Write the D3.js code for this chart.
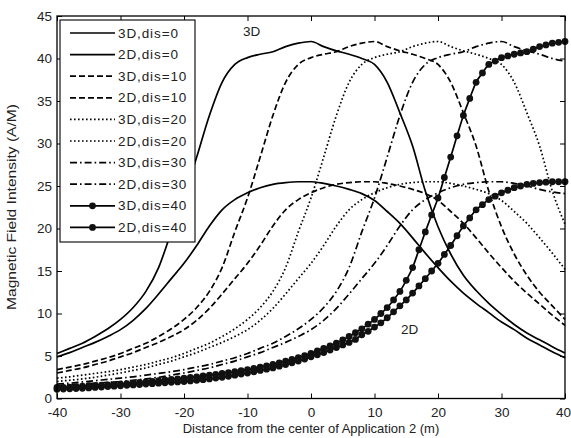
<!DOCTYPE html>
<html>
<head>
<meta charset="utf-8">
<script src="https://cdn.jsdelivr.net/npm/d3@7"></script>
<style>
  body { margin: 0; background: #fff; }
  text { font-family: "Liberation Sans", Arial, sans-serif; fill: #222; }
</style>
</head>
<body>
<svg id="chart" width="571" height="438"></svg>
<script>
// x positions (m) for the line series, every 2 m
const xEven = d3.range(-40, 41, 2);
// the dis=40 series are sampled every 1 m (one marker per sample)
const xOne = d3.range(-40, 41, 1);

const yTicks = [0, 5, 10, 15, 20, 25, 30, 35, 40, 45];
const xTicks = [-40, -30, -20, -10, 0, 10, 20, 30, 40];

// values (A/M)
const d3dis0 = [5.3,5.9,6.5,7.3,8.2,9.3,10.7,12.6,15.4,19.6,23.6,28.4,33.3,37.2,39.3,40.1,40.5,40.8,41.4,41.8,
  42.0,41.4,40.9,40.5,40.0,39.3,37.2,33.6,29.7,24.4,20.2,17.0,14.5,12.7,11.2,9.9,8.7,7.7,6.9,6.1,5.35];
const d2dis0 = [4.9,5.4,6.0,6.6,7.3,8.1,9.2,10.6,12.3,14.1,15.9,18.0,20.3,22.2,23.4,24.2,24.8,25.2,25.4,25.5,
  25.5,25.3,25.0,24.6,24.1,23.3,22.0,20.6,18.9,17.1,15.4,13.8,12.4,11.2,10.1,9.0,8.1,7.1,6.3,5.5,4.8];
const d3dis10 = [3.4,3.7,4.0,4.4,4.8,5.3,5.9,6.5,7.3,8.2,9.3,10.7,12.6,15.4,19.6,23.6,28.4,33.3,37.2,39.3,
  40.1,40.5,40.8,41.4,41.8,42.0,41.4,40.9,40.5,40.0,39.3,37.2,33.6,29.7,24.4,20.2,17.0,14.5,12.5,10.9,9.3];
const d2dis10 = [3.0,3.3,3.6,4.0,4.4,4.9,5.4,6.0,6.6,7.3,8.1,9.2,10.6,12.3,14.1,15.9,18.0,20.3,22.2,23.4,
  24.2,24.8,25.2,25.4,25.5,25.5,25.3,25.0,24.6,24.1,23.3,22.0,20.6,18.9,17.1,15.4,13.8,12.4,11.1,9.8,8.6];
const d3dis20 = [2.4,2.55,2.75,2.95,3.15,3.4,3.7,4.0,4.4,4.8,5.3,5.9,6.5,7.3,8.2,9.3,10.7,12.6,15.4,19.6,
  23.6,28.4,33.3,37.2,39.3,40.1,40.5,40.8,41.4,41.8,42.0,41.4,40.9,40.5,40.0,39.3,37.2,33.6,29.7,24.4,20.5];
const d2dis20 = [2.0,2.15,2.3,2.5,2.75,3.0,3.3,3.6,4.0,4.4,4.9,5.4,6.0,6.6,7.3,8.1,9.2,10.6,12.3,14.1,
  15.9,18.0,20.3,22.2,23.4,24.2,24.8,25.2,25.4,25.5,25.5,25.3,25.0,24.6,24.1,23.3,22.0,20.6,18.9,17.1,15.2];
const d3dis30 = [1.7,1.8,1.95,2.1,2.25,2.4,2.55,2.75,2.95,3.15,3.4,3.7,4.0,4.4,4.8,5.3,5.9,6.5,7.3,8.2,
  9.3,10.7,12.6,15.4,19.6,23.6,28.4,33.3,37.2,39.3,40.1,40.5,40.8,41.4,41.8,42.0,41.4,40.9,40.5,40.0,39.7];
const d2dis30 = [1.5,1.6,1.7,1.8,1.9,2.0,2.15,2.3,2.5,2.75,3.0,3.3,3.6,4.0,4.4,4.9,5.4,6.0,6.6,7.3,
  8.1,9.2,10.6,12.3,14.1,15.9,18.0,20.3,22.2,23.4,24.2,24.8,25.2,25.4,25.5,25.5,25.3,25.0,24.6,24.3,24.1];
const d3dis40 = [1.30,1.32,1.35,1.40,1.45,1.50,1.55,1.58,1.60,1.65,
  1.70,1.75,1.80,1.88,1.95,2.02,2.10,2.18,2.25,2.32,
  2.40,2.48,2.55,2.65,2.75,2.85,2.95,3.05,3.15,3.28,
  3.40,3.55,3.70,3.85,4.00,4.20,4.40,4.60,4.80,5.05,
  5.30,5.60,5.90,6.20,6.50,6.90,7.30,7.75,8.20,8.75,
  9.30,10.0,10.7,11.6,12.6,13.9,15.4,17.5,19.6,21.6,
  23.6,26.0,28.4,30.9,33.3,35.3,37.2,38.3,39.3,39.7,
  40.1,40.3,40.5,40.65,40.8,41.1,41.4,41.6,41.8,41.9,
  42.0];
const d2dis40 = [1.10,1.12,1.15,1.17,1.20,1.25,1.30,1.35,1.40,1.45,
  1.50,1.55,1.60,1.65,1.70,1.75,1.80,1.85,1.90,1.95,
  2.00,2.07,2.15,2.22,2.30,2.40,2.50,2.62,2.75,2.88,
  3.00,3.15,3.30,3.45,3.60,3.80,4.00,4.20,4.40,4.65,
  4.90,5.15,5.40,5.70,6.00,6.30,6.60,6.95,7.50,7.90,
  8.40,8.90,9.50,10.2,10.9,11.6,12.4,13.25,14.1,15.0,
  15.9,16.95,18.0,19.15,20.3,21.25,22.2,22.8,23.4,23.8,
  24.2,24.5,24.8,25.0,25.2,25.3,25.4,25.45,25.5,25.5,
  25.5];

const seriesNames = ["3D,dis=0", "2D,dis=0", "3D,dis=10", "2D,dis=10", "3D,dis=20",
  "2D,dis=20", "3D,dis=30", "2D,dis=30", "3D,dis=40", "2D,dis=40"];
const seriesValues = [d3dis0, d2dis0, d3dis10, d2dis10, d3dis20, d2dis20, d3dis30, d2dis30, d3dis40, d2dis40];

// line style per dis value (matlab '-', '--', ':', '-.', '-o')
const dashFor = name => {
  if (name.endsWith("=10")) return "6,3";
  if (name.endsWith("=20")) return "1.6,2.4";
  if (name.endsWith("=30")) return "7,3,1.6,3";
  return null;
};

const svg = d3.select("#chart");
const plotLeft = 57, plotRight = 565, plotTop = 16, plotBottom = 398.5;

const x = d3.scaleLinear().domain([-40, 40]).range([plotLeft, plotRight]);
const y = d3.scaleLinear().domain([0, 45]).range([plotBottom, plotTop]);

const series = seriesNames.map((name, i) => {
  const xs = seriesValues[i].length === xOne.length ? xOne : xEven;
  return { name, marker: name.endsWith("=40"), points: seriesValues[i].map((v, j) => [xs[j], v]) };
});

// axes with inward ticks, also on top and right like matlab
const tickLen = -5;
svg.append("g")
  .attr("transform", `translate(0,${plotBottom})`)
  .call(d3.axisBottom(x).tickValues(xTicks).tickSize(tickLen).tickPadding(9).tickFormat(d => String(d)))
  .call(g => g.select(".domain").remove())
  .call(g => g.selectAll(".tick text").filter(d => d === 40).attr("dx", -2));
svg.append("g")
  .attr("transform", `translate(0,${plotTop})`)
  .call(d3.axisTop(x).tickValues(xTicks).tickSize(tickLen).tickFormat(""))
  .call(g => g.select(".domain").remove());
svg.append("g")
  .attr("transform", `translate(${plotLeft},0)`)
  .call(d3.axisLeft(y).tickValues(yTicks).tickSize(tickLen).tickPadding(5).tickFormat(d => String(d)))
  .call(g => g.select(".domain").remove());
svg.append("g")
  .attr("transform", `translate(${plotRight},0)`)
  .call(d3.axisRight(y).tickValues(yTicks).tickSize(tickLen).tickFormat(""))
  .call(g => g.select(".domain").remove());

svg.selectAll(".tick line").attr("stroke", "#000").attr("stroke-width", 1);
svg.selectAll(".tick text")
  .style("font-family", "Liberation Sans, Arial, sans-serif")
  .style("font-size", "13.5px")
  .attr("fill", "#222");

const line = d3.line()
  .x(d => x(d[0]))
  .y(d => y(d[1]))
  .curve(d3.curveMonotoneX);

const plot = svg.append("g");
series.forEach(s => {
  plot.append("path")
    .datum(s.points)
    .attr("d", line)
    .attr("fill", "none")
    .attr("stroke", "#000")
    .attr("stroke-width", 1.7)
    .attr("stroke-dasharray", dashFor(s.name));
  if (s.marker) {
    plot.selectAll(null)
      .data(s.points)
      .enter()
      .append("circle")
      .attr("cx", d => x(d[0]))
      .attr("cy", d => y(d[1]))
      .attr("r", 3.4)
      .attr("fill", "#111");
  }
});

// frame
svg.append("rect")
  .attr("x", plotLeft).attr("y", plotTop)
  .attr("width", plotRight - plotLeft).attr("height", plotBottom - plotTop)
  .attr("fill", "none").attr("stroke", "#000").attr("stroke-width", 1.3);

// annotations
svg.append("text").attr("x", 243).attr("y", 36).style("font-size", "13.5px").text("3D");
svg.append("text").attr("x", 401).attr("y", 334).style("font-size", "13.5px").text("2D");

// legend
const legend = svg.append("g");
legend.append("rect")
  .attr("x", 60).attr("y", 20).attr("width", 135).attr("height", 222)
  .attr("fill", "#fff").attr("stroke", "#000").attr("stroke-width", 1.1);
series.forEach((s, i) => {
  const ly = 33 + i * 21.6;
  legend.append("line")
    .attr("x1", 70).attr("x2", 115).attr("y1", ly).attr("y2", ly)
    .attr("stroke", "#000").attr("stroke-width", 1.7)
    .attr("stroke-dasharray", dashFor(s.name));
  if (s.marker) {
    legend.append("circle").attr("cx", 92.5).attr("cy", ly).attr("r", 3.4).attr("fill", "#111");
  }
  legend.append("text")
    .attr("x", 118).attr("y", ly + 4.5)
    .style("font-size", "13.5px")
    .style("letter-spacing", "0.9px")
    .text(s.name);
});

// axis titles
svg.append("text")
  .attr("x", 311).attr("y", 433)
  .attr("text-anchor", "middle")
  .style("font-size", "13px")
  .text("Distance from the center of Application 2 (m)");
svg.append("text")
  .attr("transform", "translate(16,207) rotate(-90)")
  .attr("text-anchor", "middle")
  .style("font-size", "13px")
  .attr("textLength", 206)
  .attr("lengthAdjust", "spacingAndGlyphs")
  .text("Magnetic Field Intensity (A/M)");
</script>
</body>
</html>
